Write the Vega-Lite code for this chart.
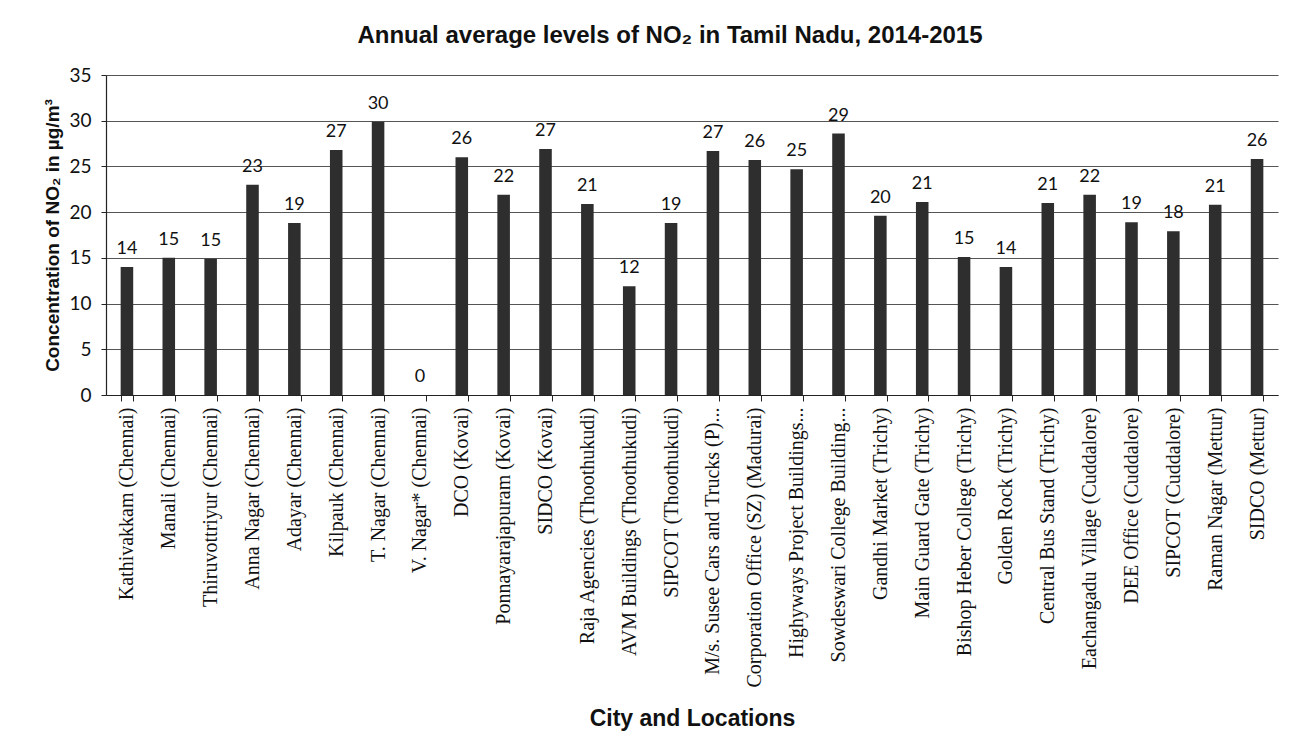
{
  "$schema": "https://vega.github.io/schema/vega-lite/v6.json",
  "autosize": {"type": "none"},
  "width": 1172,
  "height": 320,
  "padding": {"left": 106, "top": 75, "right": 29, "bottom": 351},
  "background": "white",
  "title": {
    "text": "Annual average levels of NO₂ in Tamil Nadu, 2014-2015",
    "font": "Liberation Sans",
    "fontSize": 24,
    "fontWeight": "bold",
    "color": "#111",
    "anchor": "middle",
    "dx": -22,
    "offset": 18
  },
  "data": {
    "values": [
      {"loc": "Kathivakkam (Chennai)", "v": 14.0},
      {"loc": "Manali (Chennai)", "v": 15.0},
      {"loc": "Thiruvottriyur (Chennai)", "v": 14.9},
      {"loc": "Anna Nagar (Chennai)", "v": 23.0},
      {"loc": "Adayar (Chennai)", "v": 18.8},
      {"loc": "Kilpauk (Chennai)", "v": 26.8},
      {"loc": "T. Nagar (Chennai)", "v": 29.9},
      {"loc": "V. Nagar* (Chennai)", "v": 0},
      {"loc": "DCO (Kovai)", "v": 26.0},
      {"loc": "Ponnayarajapuram (Kovai)", "v": 21.9},
      {"loc": "SIDCO (Kovai)", "v": 26.9},
      {"loc": "Raja Agencies (Thoothukudi)", "v": 20.9},
      {"loc": "AVM Buildings (Thoothukudi)", "v": 11.9},
      {"loc": "SIPCOT (Thoothukudi)", "v": 18.8},
      {"loc": "M/s. Susee Cars and Trucks (P)...", "v": 26.7},
      {"loc": "Corporation Office (SZ) (Madurai)", "v": 25.7},
      {"loc": "Highyways Project Buildings...", "v": 24.7},
      {"loc": "Sowdeswari College Building...", "v": 28.6},
      {"loc": "Gandhi Market (Trichy)", "v": 19.6},
      {"loc": "Main Guard Gate (Trichy)", "v": 21.1},
      {"loc": "Bishop Heber College (Trichy)", "v": 15.1},
      {"loc": "Golden Rock (Trichy)", "v": 14.0},
      {"loc": "Central Bus Stand (Trichy)", "v": 21.0},
      {"loc": "Eachangadu Village (Cuddalore)", "v": 21.9},
      {"loc": "DEE Office (Cuddalore)", "v": 18.9},
      {"loc": "SIPCOT (Cuddalore)", "v": 17.9},
      {"loc": "Raman Nagar (Mettur)", "v": 20.8},
      {"loc": "SIDCO (Mettur)", "v": 25.8}
    ]
  },
  "encoding": {
    "x": {
      "field": "loc",
      "type": "nominal",
      "sort": null,
      "scale": {"paddingInner": 0.7, "paddingOuter": 0.35},
      "axis": {
        "title": "City and Locations",
        "titleFont": "Liberation Sans",
        "titleFontSize": 23,
        "titleFontWeight": "bold",
        "titleColor": "#111",
        "titleY": 323,
        "titleBaseline": "middle",
        "labelAngle": -90,
        "labelFont": "Liberation Serif",
        "labelFontSize": 20,
        "labelColor": "#111",
        "labelLimit": 320,
        "labelPadding": 6,
        "tickBand": "extent",
        "tickColor": "#222",
        "tickSize": 6,
        "domainColor": "#222",
        "domainWidth": 1.2,
        "grid": false
      }
    },
    "y": {
      "field": "v",
      "type": "quantitative",
      "scale": {"domain": [0, 35]},
      "axis": {
        "title": "Concentration of NO₂ in µg/m³",
        "titleFont": "Liberation Sans",
        "titleFontSize": 19,
        "titleFontWeight": "bold",
        "titleColor": "#111",
        "titlePadding": 6,
        "values": [0, 5, 10, 15, 20, 25, 30, 35],
        "labelFont": "Lato",
        "labelFontSize": 19,
        "labelColor": "#111",
        "labelPadding": 10,
        "tickSize": 5,
        "tickColor": "#222",
        "domainColor": "#222",
        "domainWidth": 1.2,
        "grid": true,
        "gridColor": "#555",
        "gridWidth": 1
      }
    }
  },
  "layer": [
    {"mark": {"type": "bar", "color": "#2e2e2e"}},
    {
      "mark": {"type": "text", "dy": -18, "font": "Lato", "fontSize": 18, "color": "#111"},
      "encoding": {"text": {"field": "v", "type": "quantitative", "format": ".0f"}}
    }
  ],
  "config": {"view": {"stroke": null}}
}
